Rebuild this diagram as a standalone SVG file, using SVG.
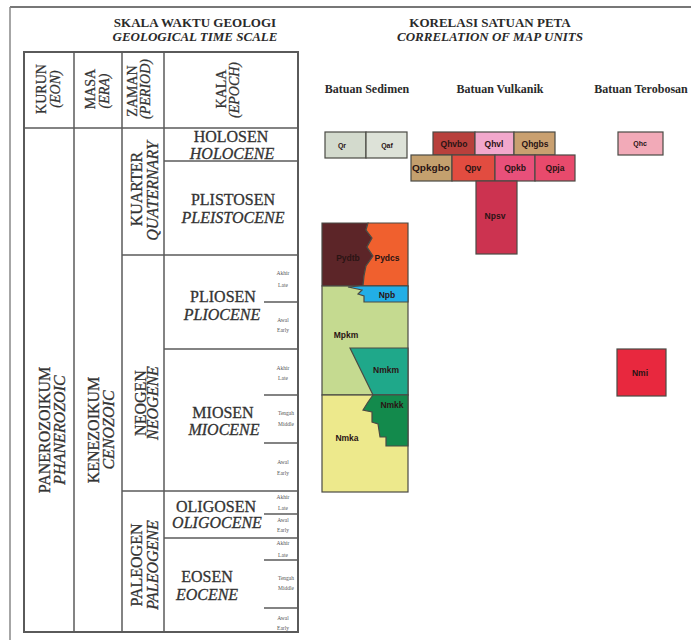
<svg xmlns="http://www.w3.org/2000/svg" width="691" height="640" viewBox="0 0 691 640">
<style>
.ln{stroke:#5a5a5a;stroke-width:1.5;fill:none}
.tb{stroke:#5a5a5a;stroke-width:2;fill:none}
.hd{font-family:"Liberation Serif",serif;font-size:14px;fill:#333;stroke:#333;stroke-width:0.25;text-anchor:middle}
.lb{font-family:"Liberation Serif",serif;font-size:16px;fill:#333;stroke:#333;stroke-width:0.3;text-anchor:middle}
.it{font-style:italic}
.tt{font-family:"Liberation Serif",serif;font-size:13px;font-weight:bold;fill:#2a2a2a;text-anchor:middle}
.ch{font-family:"Liberation Serif",serif;font-size:12px;font-weight:bold;fill:#2a2a2a;text-anchor:middle}
.sm{font-family:"Liberation Serif",serif;font-size:5.5px;fill:#555;text-anchor:middle}
.u{stroke:#4a4a44;stroke-width:1.2}
.ut{font-family:"Liberation Sans",sans-serif;font-size:8.5px;font-weight:bold;fill:#2a1414;text-anchor:middle}
.us{font-size:7px}
</style>
<rect width="691" height="640" fill="#fff"/>
<g id="frame">
<line x1="10" y1="7" x2="691" y2="7" stroke="#777" stroke-width="2"/>
<line x1="10" y1="7" x2="10" y2="640" stroke="#888" stroke-width="1.5"/>
</g>
<g id="title-left">
<text class="tt" x="195" y="27">SKALA WAKTU GEOLOGI</text>
<text class="tt it" x="195" y="41">GEOLOGICAL TIME SCALE</text>
</g>
<g id="title-right">
<text class="tt" x="490" y="27">KORELASI SATUAN PETA</text>
<text class="tt it" x="490" y="41">CORRELATION OF MAP UNITS</text>
</g>
<g id="table-lines">
<rect class="tb" x="24" y="52" width="274" height="580"/>
<line class="ln" x1="74" y1="52" x2="74" y2="632"/>
<line class="ln" x1="122" y1="52" x2="122" y2="632"/>
<line class="ln" x1="164" y1="52" x2="164" y2="632"/>
<line class="ln" x1="24" y1="128" x2="298" y2="128"/>
<line class="ln" x1="164" y1="161" x2="298" y2="161"/>
<line class="ln" x1="122" y1="255" x2="298" y2="255"/>
<line class="ln" x1="164" y1="349" x2="298" y2="349"/>
<line class="ln" x1="122" y1="491" x2="298" y2="491"/>
<line class="ln" x1="164" y1="538" x2="298" y2="538"/>
<line class="ln" x1="264" y1="302" x2="298" y2="302"/>
<line class="ln" x1="264" y1="395" x2="298" y2="395"/>
<line class="ln" x1="264" y1="443" x2="298" y2="443"/>
<line class="ln" x1="264" y1="514" x2="298" y2="514"/>
<line class="ln" x1="264" y1="560" x2="298" y2="560"/>
<line class="ln" x1="264" y1="608" x2="298" y2="608"/>
</g>
<g id="header-eon"><text class="hd" transform="translate(46,89) rotate(-90)">KURUN</text><text class="hd it" transform="translate(60,89) rotate(-90)">(EON)</text></g>
<g id="header-era"><text class="hd" transform="translate(95,89) rotate(-90)">MASA</text><text class="hd it" transform="translate(109,91) rotate(-90)">(ERA)</text></g>
<g id="header-period"><text class="hd" transform="translate(137,91) rotate(-90)">ZAMAN</text><text class="hd it" transform="translate(150,89) rotate(-90)">(PERIOD)</text></g>
<g id="header-epoch"><text class="hd" transform="translate(226,89) rotate(-90)">KALA</text><text class="hd it" transform="translate(239,90) rotate(-90)">(EPOCH)</text></g>
<g id="eon-phanerozoic"><text class="lb" transform="translate(50,430) rotate(-90)">PANEROZOIKUM</text><text class="lb it" transform="translate(65,430) rotate(-90)">PHANEROZOIC</text></g>
<g id="era-cenozoic"><text class="lb" transform="translate(99,430) rotate(-90)">KENEZOIKUM</text><text class="lb it" transform="translate(114,430) rotate(-90)">CENOZOIC</text></g>
<g id="period-quaternary"><text class="lb" transform="translate(142,189) rotate(-90)">KUARTER</text><text class="lb it" transform="translate(158,191) rotate(-90)">QUATERNARY</text></g>
<g id="period-neogene"><text class="lb" transform="translate(146,403) rotate(-90)">NEOGEN</text><text class="lb it" transform="translate(158,403) rotate(-90)">NEOGENE</text></g>
<g id="period-paleogene"><text class="lb" transform="translate(142,565) rotate(-90)">PALEOGEN</text><text class="lb it" transform="translate(158,565) rotate(-90)">PALEOGENE</text></g>
<g id="epoch-holocene"><text class="lb" x="231" y="142">HOLOSEN</text><text class="lb it" x="232" y="159">HOLOCENE</text></g>
<g id="epoch-pleistocene"><text class="lb" x="233" y="205">PLISTOSEN</text><text class="lb it" x="233" y="223">PLEISTOCENE</text></g>
<g id="epoch-pliocene"><text class="lb" x="223" y="302">PLIOSEN</text><text class="lb it" x="222" y="320">PLIOCENE</text>
<text class="sm" x="283" y="275">Akhir</text><text class="sm" x="283" y="287">Late</text><text class="sm" x="283" y="322">Awal</text><text class="sm" x="283" y="332">Early</text></g>
<g id="epoch-miocene"><text class="lb" x="223" y="418">MIOSEN</text><text class="lb it" x="224" y="435">MIOCENE</text>
<text class="sm" x="283" y="370">Akhir</text><text class="sm" x="283" y="380">Late</text><text class="sm" x="286" y="415">Tengah</text><text class="sm" x="286" y="426">Middle</text><text class="sm" x="283" y="464">Awal</text><text class="sm" x="283" y="475">Early</text></g>
<g id="epoch-oligocene"><text class="lb" x="216" y="512">OLIGOSEN</text><text class="lb it" x="217" y="528">OLIGOCENE</text>
<text class="sm" x="283" y="499">Akhir</text><text class="sm" x="283" y="510">Late</text><text class="sm" x="283" y="522">Awal</text><text class="sm" x="283" y="532">Early</text></g>
<g id="epoch-eocene"><text class="lb" x="207" y="582">EOSEN</text><text class="lb it" x="207" y="600">EOCENE</text>
<text class="sm" x="283" y="545">Akhir</text><text class="sm" x="283" y="557">Late</text><text class="sm" x="286" y="580">Tengah</text><text class="sm" x="286" y="590">Middle</text><text class="sm" x="283" y="620">Awal</text><text class="sm" x="283" y="630">Early</text></g>
<g id="col-headers">
<text class="ch" x="367" y="93">Batuan Sedimen</text>
<text class="ch" x="500" y="93">Batuan Vulkanik</text>
<text class="ch" x="641" y="93">Batuan Terobosan</text>
</g>
<g id="unit-Qr"><rect class="u" x="325" y="132" width="41" height="26" fill="#d3dacd"/><text class="ut us" x="342" y="148">Qr</text></g>
<g id="unit-Qaf"><rect class="u" x="366" y="132" width="41" height="26" fill="#dde2d8"/><text class="ut us" x="387" y="148">Qaf</text></g>
<g id="unit-Qhvbo"><rect class="u" x="433" y="132" width="42" height="23" fill="#b8403c"/><text class="ut" x="454" y="147">Qhvbo</text></g>
<g id="unit-Qhvl"><rect class="u" x="475" y="132" width="39" height="23" fill="#f2a8cc"/><text class="ut" x="494" y="147" fill="#4a2070">Qhvl</text></g>
<g id="unit-Qhgbs"><rect class="u" x="514" y="132" width="41" height="23" fill="#c9a070"/><text class="ut" x="535" y="147">Qhgbs</text></g>
<g id="unit-Qpkgbo"><rect class="u" x="411" y="155" width="41" height="26" fill="#c4a06e"/><text class="ut" x="431" y="171" textLength="38" lengthAdjust="spacingAndGlyphs">Qpkgbo</text></g>
<g id="unit-Qpv"><rect class="u" x="452" y="155" width="43" height="26" fill="#e24c40"/><text class="ut" x="473" y="171">Qpv</text></g>
<g id="unit-Qpkb"><rect class="u" x="495" y="155" width="40" height="26" fill="#e8507a"/><text class="ut" x="515" y="171">Qpkb</text></g>
<g id="unit-Qpja"><rect class="u" x="535" y="155" width="40" height="26" fill="#e84a6c"/><text class="ut" x="555" y="171">Qpja</text></g>
<g id="unit-Npsv"><rect class="u" x="476" y="181" width="41" height="73" fill="#cc3350"/><text class="ut" x="495" y="219">Npsv</text></g>
<g id="unit-Qhc"><rect class="u" x="618" y="132" width="45" height="23" fill="#f2aab8"/><text class="ut us" x="640" y="146">Qhc</text></g>
<g id="unit-Nmi"><rect class="u" x="617" y="349" width="49" height="47" fill="#e8283e"/><text class="ut" x="640" y="376">Nmi</text></g>
<g id="sediment-column">
<g id="unit-Pydtb"><polygon class="u" points="322,223 368,223 366,230 372,238 367,247 373,256 366,266 364,276 363,286 322,286" fill="#5c2528"/><text class="ut" x="348" y="261">Pydtb</text></g>
<g id="unit-Pydcs"><polygon class="u" points="368,223 408,223 408,286 363,286 364,276 366,266 373,256 367,247 372,238 366,230" fill="#f0602e"/><text class="ut" x="387" y="261">Pydcs</text></g>
<g id="unit-Mpkm"><rect class="u" x="322" y="286" width="86" height="109" fill="#c5da90"/><text class="ut" x="346" y="338">Mpkm</text></g>
<g id="unit-Npb"><polygon class="u" points="348,287 360,286 408,286 408,302 364,302 364,296 358,294 362,290" fill="#22aee6"/><text class="ut" x="387" y="298" fill="#1a3a6a">Npb</text></g>
<g id="unit-Nmkm"><polygon class="u" points="350,348 408,348 408,395 373,395" fill="#1fa88a"/><text class="ut" x="386" y="373" fill="#123a4a">Nmkm</text></g>
<g id="unit-Nmka"><rect class="u" x="322" y="395" width="86" height="97" fill="#ede98c"/><text class="ut" x="347" y="441">Nmka</text></g>
<g id="unit-Nmkk"><polygon class="u" points="373,395 408,395 408,446 386,446 386,437 380,437 378,424 372,422 372,412 363,410 368,402" fill="#138a4c"/><text class="ut" x="392" y="408">Nmkk</text></g>
</g>
</svg>
